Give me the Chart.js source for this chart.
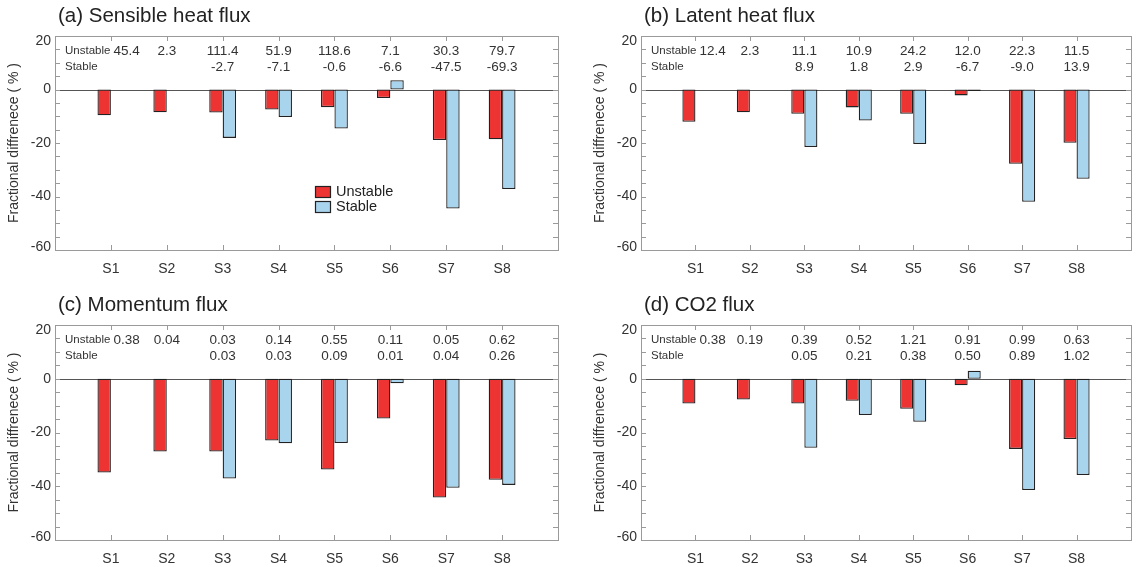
<!DOCTYPE html>
<html>
<head>
<meta charset="utf-8">
<script src="https://cdn.jsdelivr.net/npm/chart.js@4.4.1/dist/chart.umd.min.js"></script>
<style>
    html, body { margin: 0; padding: 0; background: #fff; }
    #wrap { position: relative; width: 1145px; height: 567px; overflow: hidden; }
    canvas { position: absolute; }
</style>
</head>
<body>
<div id="wrap">
    <canvas id="chartA" width="572" height="285" style="left:0;top:0"></canvas>
    <canvas id="chartB" width="559" height="285" style="left:586px;top:0"></canvas>
    <canvas id="chartC" width="572" height="278" style="left:0;top:289px"></canvas>
    <canvas id="chartD" width="559" height="278" style="left:586px;top:289px"></canvas>
</div>
<script>
// sites along the x axis
const sites = ['S1', 'S2', 'S3', 'S4', 'S5', 'S6', 'S7', 'S8'];
const yMin = -60;
const yMax = 20;

// (a) sensible heat flux
const sensibleUnstable = [-9.6, -8.5, -8.6, -7.5, -6.6, -3.2, -18.9, -18.6];
const sensibleStable = [null, null, -18.1, -10.3, -14.6, 3.5, -44.5, -37.2];
const sensibleUnstableNote = ['45.4', '2.3', '111.4', '51.9', '118.6', '7.1', '30.3', '79.7'];
const sensibleStableNote = ['', '', '-2.7', '-7.1', '-0.6', '-6.6', '-47.5', '-69.3'];

// (b) latent heat flux
const latentUnstable = [-12.1, -8.5, -9.1, -6.7, -9.1, -2.2, -27.8, -19.9];
const latentStable = [null, null, -21.5, -11.6, -20.4, -0.6, -42.0, -33.4];
const latentUnstableNote = ['12.4', '2.3', '11.1', '10.9', '24.2', '12.0', '22.3', '11.5'];
const latentStableNote = ['', '', '8.9', '1.8', '2.9', '-6.7', '-9.0', '13.9'];

// (c) momentum flux
const momentumUnstable = [-34.9, -27.1, -27.1, -23.0, -33.8, -14.8, -44.2, -37.6];
const momentumStable = [null, null, -37.1, -24.0, -23.9, -1.7, -40.6, -39.5];
const momentumUnstableNote = ['0.38', '0.04', '0.03', '0.14', '0.55', '0.11', '0.05', '0.62'];
const momentumStableNote = ['', '', '0.03', '0.03', '0.09', '0.01', '0.04', '0.26'];

// (d) CO2 flux
const co2Unstable = [-9.2, -7.7, -9.2, -8.2, -11.2, -2.4, -26.1, -22.4];
const co2Stable = [null, null, -25.7, -13.5, -16.0, 3.0, -41.4, -35.8];
const co2UnstableNote = ['0.38', '0.19', '0.39', '0.52', '1.21', '0.91', '0.99', '0.63'];
const co2StableNote = ['', '', '0.05', '0.21', '0.38', '0.50', '0.89', '1.02'];

const RED = '#ee3333';
const BLUE = '#a9d4ee';
const EDGE = '#222';
const FONT = 'Arial, "Liberation Sans", sans-serif';

// frame, inner ticks, zero line, notes, title, legend
const panelDecor = {
    id: 'panelDecor',
    beforeDatasetsDraw(chart) {
        const ctx = chart.ctx;
        const ca = chart.chartArea;
        const y0 = chart.scales.y.getPixelForValue(0);
        ctx.save();
        ctx.strokeStyle = '#555';
        ctx.lineWidth = 1;
        ctx.beginPath();
        ctx.moveTo(ca.left, Math.round(y0) + 0.5);
        ctx.lineTo(ca.right, Math.round(y0) + 0.5);
        ctx.stroke();
        ctx.restore();
    },
    afterDraw(chart, args, opts) {
        const ctx = chart.ctx;
        const ca = chart.chartArea;
        const xs = chart.scales.x;
        const ys = chart.scales.y;
        ctx.save();

        // frame
        ctx.strokeStyle = '#9a9a9a';
        ctx.lineWidth = 1;
        ctx.strokeRect(Math.round(ca.left) + 0.5, Math.round(ca.top) + 0.5,
            Math.round(ca.right - ca.left), Math.round(ca.bottom - ca.top));

        // ticks pointing inwards
        ctx.beginPath();
        ys.ticks.forEach(t => {
            const py = Math.round(ys.getPixelForValue(t.value)) + 0.5;
            ctx.moveTo(ca.left, py); ctx.lineTo(ca.left + 5, py);
            ctx.moveTo(ca.right, py); ctx.lineTo(ca.right - 5, py);
        });
        for (let i = 1; i <= sites.length; i++) {
            const px = Math.round(xs.getPixelForValue(i)) + 0.5;
            ctx.moveTo(px, ca.top); ctx.lineTo(px, ca.top + 5);
            ctx.moveTo(px, ca.bottom); ctx.lineTo(px, ca.bottom - 5);
        }
        ctx.stroke();

        // panel title
        ctx.fillStyle = '#222';
        ctx.textBaseline = 'middle';
        ctx.textAlign = 'left';
        ctx.font = '20.5px ' + FONT;
        ctx.fillText(opts.title, ca.left + 3, ca.top - 20);

        // unstable / stable notes
        const rowU = ca.top + 15;
        const rowS = ca.top + 31;
        ctx.fillStyle = '#333';
        ctx.font = '11.5px ' + FONT;
        ctx.fillText('Unstable', ca.left + 10, rowU);
        ctx.fillText('Stable', ca.left + 10, rowS);
        const labelEnd = ca.left + 10 + ctx.measureText('Unstable').width;
        ctx.font = '13.5px ' + FONT;
        opts.unstableNotes.forEach((s, i) => {
            const px = xs.getPixelForValue(i + 1);
            if (i === 0) {
                ctx.textAlign = 'left';
                ctx.fillText(s, labelEnd + 3, rowU);
            } else {
                ctx.textAlign = 'center';
                ctx.fillText(s, px, rowU);
            }
        });
        ctx.textAlign = 'center';
        opts.stableNotes.forEach((s, i) => {
            if (s) ctx.fillText(s, xs.getPixelForValue(i + 1), rowS);
        });

        // legend (only panel a)
        if (opts.legend) {
            const lx = ca.left + 260;
            const ly = ca.top + 150;
            chart.data.datasets.forEach((ds, k) => {
                const by = ly + k * 15;
                ctx.fillStyle = ds.backgroundColor;
                ctx.fillRect(lx, by, 15, 11);
                ctx.strokeStyle = EDGE;
                ctx.lineWidth = 1.2;
                ctx.strokeRect(lx + 0.5, by + 0.5, 15, 11);
                ctx.fillStyle = '#222';
                ctx.textAlign = 'left';
                ctx.font = '14.5px ' + FONT;
                ctx.fillText(ds.label, lx + 21, by + 6);
            });
        }
        ctx.restore();
    }
};

// end labels sit just inside the frame: '20' nudged down, '-60' nudged up
function yTickLabel(v) {
    if (v % 20 !== 0) return '';
    if (v === yMax) return ['', String(v)];
    if (v === yMin) return [String(v), ''];
    return String(v);
}

function yTickFont(c) {
    let lh = 1.2;
    if (c.tick && c.tick.value === yMax) lh = 0.75;
    if (c.tick && c.tick.value === yMin) lh = 0.45;
    return { size: 14, family: FONT, lineHeight: lh };
}

function makePanel(id, title, unstable, stable, unstableNotes, stableNotes, legend, axisHeight) {
    // an empty slot on both sides puts S1 and S8 one step in from the frame
    const labels = [''].concat(sites, ['']);
    const pad = arr => [null].concat(arr, [null]);

    new Chart(document.getElementById(id), {
        type: 'bar',
        data: {
            labels: labels,
            datasets: [
                {
                    label: 'Unstable',
                    data: pad(unstable),
                    backgroundColor: RED,
                    borderColor: EDGE,
                    borderWidth: 1.3,
                    borderSkipped: false
                },
                {
                    label: 'Stable',
                    data: pad(stable),
                    backgroundColor: BLUE,
                    borderColor: EDGE,
                    borderWidth: 1.3,
                    borderSkipped: false
                }
            ]
        },
        plugins: [panelDecor],
        options: {
            responsive: false,
            animation: false,
            categoryPercentage: 0.48,
            barPercentage: 1.0,
            layout: { padding: { top: 36, right: 14, left: 0, bottom: 0 } },
            plugins: {
                legend: { display: false },
                tooltip: { enabled: false },
                panelDecor: {
                    title: title,
                    unstableNotes: unstableNotes,
                    stableNotes: stableNotes,
                    legend: legend
                }
            },
            scales: {
                x: {
                    type: 'category',
                    offset: false,
                    grid: { display: false },
                    border: { display: false },
                    ticks: {
                        autoSkip: false,
                        maxRotation: 0,
                        padding: 3,
                        color: '#333',
                        font: { size: 14, family: FONT }
                    },
                    afterFit: function(scale) { scale.height = axisHeight; }
                },
                y: {
                    min: yMin,
                    max: yMax,
                    grid: { display: false, drawTicks: false },
                    border: { display: false },
                    ticks: {
                        stepSize: 5,
                        autoSkip: false,
                        padding: 4,
                        color: '#333',
                        font: yTickFont,
                        callback: yTickLabel
                    },
                    title: {
                        display: true,
                        text: 'Fractional diffrenece ( % )',
                        color: '#333',
                        font: { size: 14, family: FONT },
                        padding: { top: 6, bottom: 0 }
                    },
                    afterFit: function(scale) { scale.width = 55; }
                }
            }
        }
    });
}

makePanel('chartA', '(a) Sensible heat flux', sensibleUnstable, sensibleStable,
    sensibleUnstableNote, sensibleStableNote, true, 35);
makePanel('chartB', '(b) Latent heat flux', latentUnstable, latentStable,
    latentUnstableNote, latentStableNote, false, 35);
makePanel('chartC', '(c) Momentum flux', momentumUnstable, momentumStable,
    momentumUnstableNote, momentumStableNote, false, 27);
makePanel('chartD', '(d) CO2 flux', co2Unstable, co2Stable,
    co2UnstableNote, co2StableNote, false, 27);
</script>
</body>
</html>
